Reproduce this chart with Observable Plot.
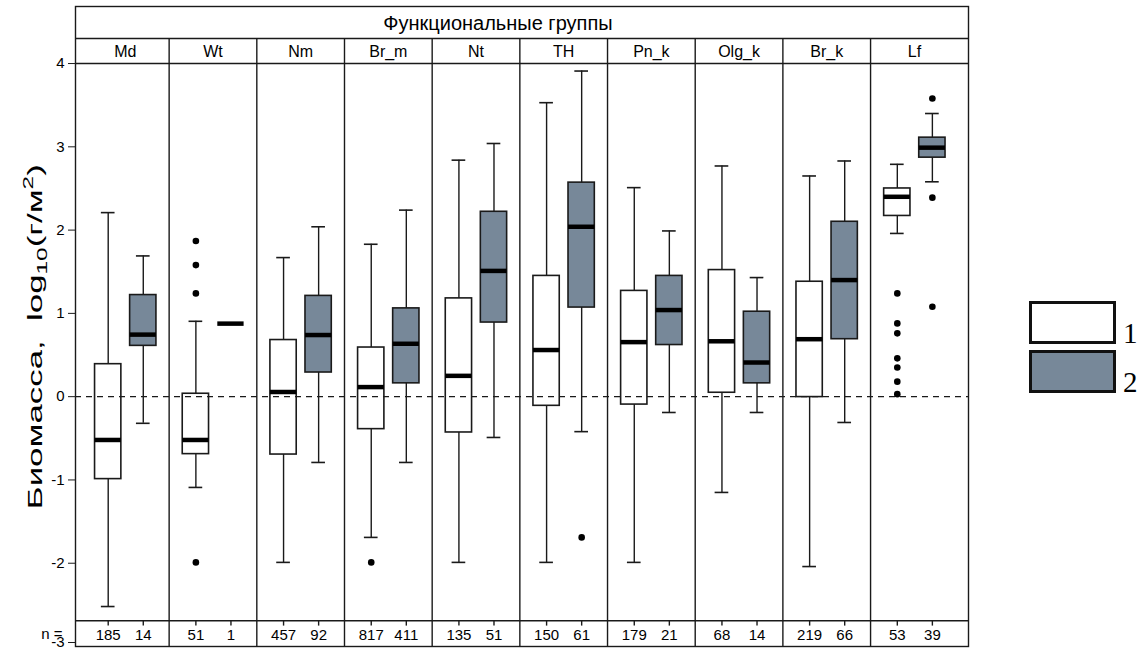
<!DOCTYPE html>
<html><head><meta charset="utf-8">
<script src="https://cdn.jsdelivr.net/npm/d3@7"></script>
<script src="https://cdn.jsdelivr.net/npm/@observablehq/plot@0.6"></script>
<style>
body{margin:0;background:#fff;}
#wrap{position:relative;width:1146px;height:649px;overflow:hidden;}
.lg{position:absolute;box-sizing:border-box;border:3px solid #111;}
.lgt{position:absolute;font-family:"Liberation Serif","DejaVu Serif",serif;font-size:29px;line-height:1;color:#000;}
</style></head><body><div id="wrap"></div>
<script>
// ---------------- data ----------------
const title = "Функциональные группы";
const groups = ["Md","Wt","Nm","Br_m","Nt","TH","Pn_k","Olg_k","Br_k","Lf"];
const seriesKeys = ["1","2"];
const seriesFill = {"1": "#ffffff", "2": "#778899"};
const nPrefix = "n =";
const yLabelParts = ["Биомасса,  log", "10", "(г/м", "2", ")"];
const yTicks = [-3,-2,-1,0,1,2,3,4];

// sample sizes
const n1 = [185, 51, 457, 817, 135, 150, 179, 68, 219, 53];
const n2 = [14, 1, 92, 411, 51, 61, 21, 14, 66, 39];

// series 1 summaries: lower whisker, Q1, median, Q3, upper whisker
const lo1  = [-2.52, -1.09, -1.99, -1.69, -1.99, -1.99, -1.99, -1.15, -2.04, 1.96];
const q1s1 = [-0.99, -0.69, -0.695, -0.39, -0.43, -0.11, -0.095, 0.047, -0.005, 2.17];
const med1 = [-0.52, -0.52, 0.056, 0.115, 0.25, 0.56, 0.655, 0.665, 0.69, 2.40];
const q3s1 = [0.39, 0.035, 0.68, 0.59, 1.18, 1.45, 1.27, 1.52, 1.38, 2.50];
const hi1  = [2.21, 0.905, 1.67, 1.83, 2.84, 3.53, 2.51, 2.77, 2.65, 2.79];

// series 2 summaries
const lo2  = [-0.32, 0.877, -0.79, -0.79, -0.49, -0.42, -0.19, -0.19, -0.31, 2.58];
const q1s2 = [0.61, 0.877, 0.29, 0.16, 0.89, 1.07, 0.62, 0.16, 0.69, 2.87];
const med2 = [0.745, 0.877, 0.74, 0.635, 1.51, 2.04, 1.04, 0.41, 1.40, 2.99];
const q3s2 = [1.22, 0.877, 1.21, 1.06, 2.22, 2.57, 1.45, 1.02, 2.10, 3.11];
const hi2  = [1.69, 0.877, 2.04, 2.24, 3.04, 3.91, 1.99, 1.43, 2.83, 3.40];

// outliers: [group, series, value]
const outliers = [
  ["Wt","1",1.87],["Wt","1",1.58],["Wt","1",1.24],["Wt","1",-1.99],
  ["Br_m","1",-1.99],
  ["TH","2",-1.69],
  ["Lf","1",1.24],["Lf","1",0.88],["Lf","1",0.76],["Lf","1",0.46],["Lf","1",0.35],["Lf","1",0.18],["Lf","1",0.03],
  ["Lf","2",3.58],["Lf","2",2.39],["Lf","2",1.08]
];

// ---------------- layout (not data) ----------------
const slot = {"1": 0.305, "2": 0.705};   // box centre within a panel
const boxHalf = 0.15, capHalf = 0.078;
const xDomain = [-0.068, 10.117];
const yDomain = [-3, 4.685];
const plotTop = 4, stripTop = 4.30, plotBottom = -2.69;
const ink = "#1a1a1a";
const font = "'Liberation Sans', Arial, sans-serif";
const fmt = d => String(d);

// ---------------- build rows ----------------
const rows = [];
groups.forEach((g, i) => {
  rows.push({g, i, s:"1", n:n1[i], lo:lo1[i], q1:q1s1[i], med:med1[i], q3:q3s1[i], hi:hi1[i], x:i+slot["1"]});
  rows.push({g, i, s:"2", n:n2[i], lo:lo2[i], q1:q1s2[i], med:med2[i], q3:q3s2[i], hi:hi2[i], x:i+slot["2"]});
});
const boxes = rows.filter(d => d.n > 1);
const outRows = outliers.map(([g, s, v]) => ({x: groups.indexOf(g) + slot[s], y: v}));
const bounds = groups.slice(1).map((g, i) => i + 1);
const labelText = yLabelParts.join("");

const plot = Plot.plot({
  width: 1146, height: 649,
  marginLeft: 75, marginRight: 178, marginTop: 6, marginBottom: 3,
  x: {domain: xDomain, axis: null},
  y: {domain: yDomain, axis: null},
  style: {fontFamily: font, color: "#000", background: "transparent", overflow: "visible"},
  marks: [
    Plot.frame({stroke: ink, strokeWidth: 1.4}),
    Plot.ruleY([plotTop, stripTop, plotBottom], {stroke: ink, strokeWidth: 1.4}),
    Plot.ruleX(bounds, {x: d => d, y1: yDomain[0], y2: stripTop, stroke: ink, strokeWidth: 1.4}),
    Plot.text(groups, {x: (d, i) => i + 0.5, y: (plotTop + stripTop) / 2, text: d => d, fontSize: 16, dy: 1}),
    Plot.text([title], {x: () => 4.75, y: (stripTop + yDomain[1]) / 2, text: d => d, fontSize: 20, dy: 1}),
    // whiskers
    Plot.ruleX(boxes, {x: "x", y1: "lo", y2: "hi", stroke: ink, strokeWidth: 1.4}),
    Plot.ruleY(boxes, {y: "lo", x1: d => d.x - capHalf, x2: d => d.x + capHalf, stroke: ink, strokeWidth: 1.6}),
    Plot.ruleY(boxes, {y: "hi", x1: d => d.x - capHalf, x2: d => d.x + capHalf, stroke: ink, strokeWidth: 1.6}),
    // boxes
    ...seriesKeys.map(s => Plot.rect(boxes.filter(d => d.s === s), {
      x1: d => d.x - boxHalf, x2: d => d.x + boxHalf, y1: "q1", y2: "q3",
      fill: seriesFill[s], stroke: ink, strokeWidth: 1.6
    })),
    // zero line
    Plot.ruleY([0], {stroke: ink, strokeWidth: 1.3, strokeDasharray: "6,5"}),
    // medians
    Plot.ruleY(rows, {y: "med", x1: d => d.x - boxHalf, x2: d => d.x + boxHalf, stroke: "#000", strokeWidth: 4.5}),
    // outliers
    Plot.dot(outRows, {x: "x", y: "y", r: 3.3, fill: "#000", stroke: "none"}),
    // n strip
    Plot.ruleX(rows, {x: "x", y1: plotBottom, y2: plotBottom - 0.065, stroke: ink, strokeWidth: 1.4}),
    Plot.text(rows, {x: "x", y: (plotBottom + yDomain[0]) / 2, text: d => String(d.n), fontSize: 15, dy: 2}),
    // y axis
    Plot.axisY(yTicks.filter(t => t > yDomain[0]), {tickSize: 7, tickPadding: 4, fontSize: 15, label: null, stroke: ink, tickFormat: fmt}),
    Plot.axisY([yDomain[0]], {tickSize: 7, tickPadding: 4, fontSize: 15, label: null, stroke: ink, tickFormat: fmt, dy: -4}),
    Plot.text([nPrefix], {x: () => xDomain[0], y: (plotBottom + yDomain[0]) / 2, text: d => d, dx: -13, dy: 1, textAnchor: "end", fontSize: 15}),
    Plot.text([labelText], {x: () => xDomain[0], y: 0.72, text: d => d, dx: -40, rotate: -90, fontSize: 20})
  ]
});

// rich text for the y-axis label (subscript 10, superscript 2), stretched like the original
d3.select(plot).selectAll("text").each(function() {
  if (this.textContent === labelText) {
    const t = d3.select(this);
    t.text(null);
    t.attr("textLength", 345).attr("lengthAdjust", "spacingAndGlyphs");
    t.append("tspan").text(yLabelParts[0]);
    t.append("tspan").attr("font-size", "14px").attr("dy", "5").text(yLabelParts[1]);
    t.append("tspan").attr("dy", "-5").text(yLabelParts[2]);
    t.append("tspan").attr("font-size", "14px").attr("dy", "-9").text(yLabelParts[3]);
    t.append("tspan").attr("dy", "9").text(yLabelParts[4]);
  }
});

const wrap = document.getElementById("wrap");
wrap.appendChild(plot);

// legend
const legendPos = [{s:"1", top:301}, {s:"2", top:350}];
legendPos.forEach(({s, top}) => {
  const b = document.createElement("div");
  b.className = "lg";
  b.style.left = "1029px"; b.style.top = top + "px";
  b.style.width = "87px"; b.style.height = "43px";
  b.style.background = seriesFill[s];
  wrap.appendChild(b);
  const t = document.createElement("div");
  t.className = "lgt";
  t.style.left = "1123px"; t.style.top = (top + 18) + "px";
  t.textContent = s;
  wrap.appendChild(t);
});
</script></body></html>
